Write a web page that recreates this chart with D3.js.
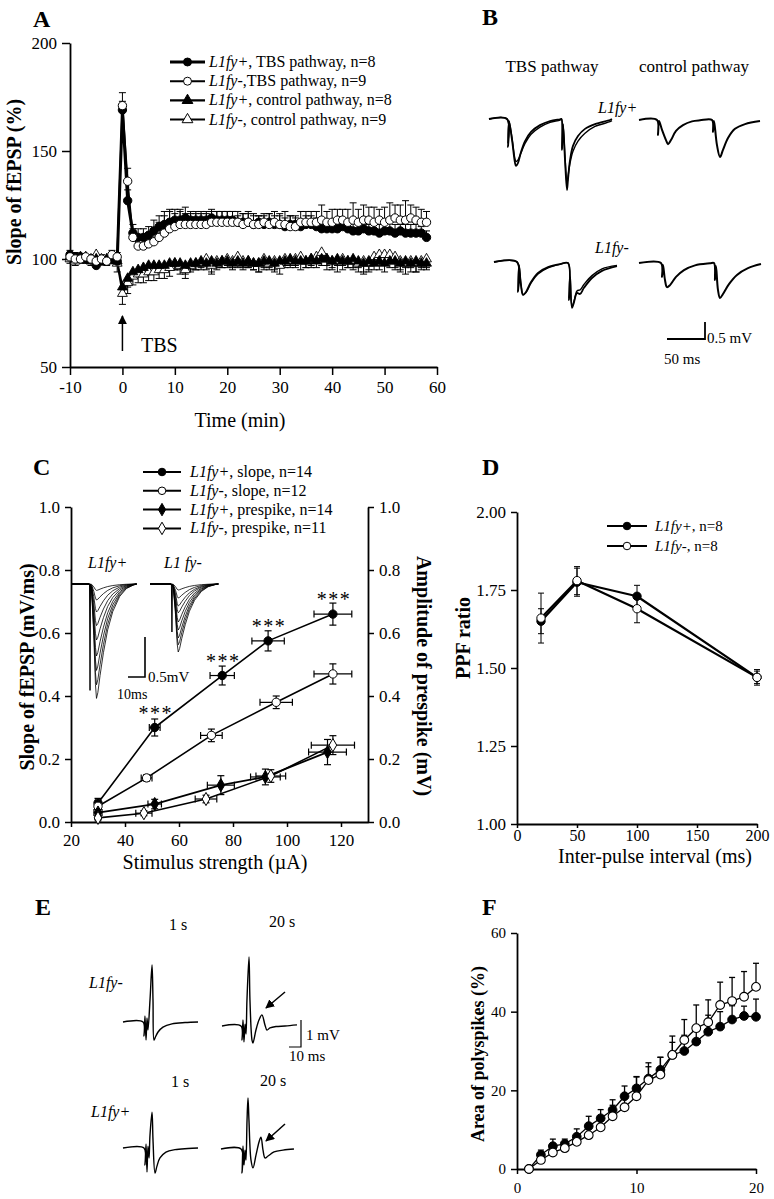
<!DOCTYPE html>
<html>
<head>
<meta charset="utf-8">
<title>L1fy LTP figure</title>
<script src="https://d3js.org/d3.v7.min.js"></script>
<style>
  body { margin: 0; background: #fff; }
  text { font-family: "Liberation Serif", "Times New Roman", serif; fill: #000; }
</style>
</head>
<body>
<script>
// ---------- Panel A: fEPSP slope over time ----------
const timeMin = [-10,-9,-8,-7,-6,-5,-4,-3,-2,-1,
  0,1,2,3,4,5,6,7,8,9,10,11,12,13,14,15,16,17,18,19,20,21,22,23,24,25,26,27,28,29,
  30,31,32,33,34,35,36,37,38,39,40,41,42,43,44,45,46,47,48,49,50,51,52,53,54,55,56,57,58];
const tbsPlus = [102,101,101,100,100,97,99,99,100,99,
  169,127,112,110,110,111,113,115,116,117,
  118,118,119,118,118,118,118,119,118,118,
  118,118,117,117,117,116,117,116,117,116,
  116,115,116,116,115,116,116,115,114,114,
  114,114,115,114,113,113,114,113,113,112,
  113,113,112,113,112,112,112,112,110];
const tbsMinus = [101,100,100,101,100,99,100,99,102,101,
  171,136,110,106,106,107,108,110,112,114,
  115,116,116,116,116,116,116,117,117,117,
  117,117,117,116,117,116,116,117,116,117,
  116,116,115,115,117,117,117,117,118,117,
  117,118,118,117,118,117,118,118,117,118,
  117,118,119,118,118,119,118,117,117];
const ctrlPlus = [101,100,101,100,99,100,99,100,100,99,
  87,91,94,95,96,97,97,97,97,98,
  98,98,97,98,98,99,98,99,98,99,
  99,98,99,98,99,98,98,99,99,98,
  99,99,100,99,99,99,100,99,100,100,
  99,100,99,99,100,99,98,99,98,99,
  98,99,99,98,99,98,99,98,98];
const ctrlMinus = [100,99,100,101,100,102,100,99,100,98,
  84,89,92,93,93,94,94,95,95,96,
  98,97,95,97,98,98,100,97,99,99,
  100,99,101,99,99,98,98,100,98,99,
  97,100,99,100,101,99,100,101,103,100,
  99,99,100,99,99,98,99,98,101,102,
  102,102,101,99,98,99,98,99,100];
const tbsPlusErr = [2,2,1,2,2,2,1,2,1,2,
  4,5,4,4,4,4,5,5,6,6,
  5,5,5,4,4,4,4,4,4,4,
  4,4,3,4,4,4,3,4,4,4,
  4,4,4,4,3,4,4,4,4,4,
  4,4,3,4,4,4,4,3,4,4,
  4,4,4,3,4,4,4,3,3];
const tbsMinusErr = [2,2,2,1,2,2,2,1,2,2,
  6,6,4,4,5,5,6,7,8,8,
  6,6,5,5,5,5,5,5,5,5,
  5,5,5,5,5,5,4,4,5,5,
  5,6,5,4,5,5,5,5,7,5,
  6,5,5,6,8,6,7,6,7,5,
  7,8,6,7,9,6,6,6,5];
const ctrlPlusErr = [2,2,1,2,2,2,1,2,2,2,
  4,4,3,3,3,3,3,3,3,3,
  3,3,4,3,3,3,3,5,3,3,
  3,3,3,3,3,3,4,3,3,3,
  3,3,3,3,4,3,3,3,3,3,
  3,3,4,3,4,3,5,4,3,4,
  4,3,4,4,3,4,5,3,3];
const ctrlMinusErr = [2,2,2,2,2,3,2,2,2,4,
  5,5,4,4,4,4,4,4,4,4,
  3,4,4,3,3,3,3,4,3,3,
  3,3,3,3,3,3,4,5,3,5,
  4,3,3,3,3,3,4,3,3,5,
  4,5,3,3,4,4,5,4,4,3,
  5,4,5,4,5,3,4,3,4];
const timeTicks = [-10,0,10,20,30,40,50,60];
const slopePctTicks = [50,100,150,200];
const legendA = [
  { ital: "L1fy+", rest: ", TBS pathway, n=8" },
  { ital: "L1fy-", rest: ",TBS pathway, n=9" },
  { ital: "L1fy+", rest: ", control pathway, n=8" },
  { ital: "L1fy-", rest: ", control pathway, n=9" }
];

// ---------- Panel B: example traces (ms, mV) ----------
const traceTbsPlusA = [[0,0],[23.7,0],[25,-0.82],[26.3,-0.06],[30.3,-0.62],[34.2,-1.29],[35.5,-1.38],[38.2,-1.29],[42.1,-0.97],[47.4,-0.65],[55.3,-0.38],[67.1,-0.18],[80.3,-0.06],[93.4,-0.01],[95.4,0],[96.1,-0.91],[97.4,-0.15],[100,-1.21],[102.6,-2.09],[103.9,-1.79],[106.6,-1.21],[110.5,-0.79],[117.1,-0.5],[126.3,-0.29],[139.5,-0.15],[159.2,-0.03],[161.8,0]];
const traceTbsPlusB = [[0,0],[23.7,0],[25,-0.7],[26.3,-0.06],[30.3,-0.55],[34.2,-1.18],[35.5,-1.25],[38.2,-1.2],[42.1,-1.0],[47.4,-0.72],[55.3,-0.45],[67.1,-0.24],[80.3,-0.1],[93.4,-0.03],[95.4,0],[96.1,-0.85],[97.4,-0.15],[100,-1.1],[102.6,-1.9],[103.9,-1.7],[106.6,-1.3],[110.5,-0.95],[117.1,-0.65],[126.3,-0.42],[139.5,-0.22],[159.2,-0.08],[161.8,-0.05]];
const traceCtrlPlus = [[0,0],[23.7,0],[25,-0.44],[26.3,-0.03],[30.3,-0.29],[35.5,-0.59],[38.2,-0.71],[42.1,-0.59],[48.7,-0.32],[57.9,-0.15],[69.7,-0.04],[80.3,-0.01],[96.1,0],[97.4,-0.35],[98.7,-0.03],[102.6,-0.74],[106.6,-1.09],[110.5,-0.88],[117.1,-0.53],[126.3,-0.26],[139.5,-0.12],[159.2,-0.03]];
const traceTbsMinusA = [[0,0],[30.3,0],[31.6,-0.88],[32.9,-0.09],[35.5,-0.68],[38.2,-0.97],[42.1,-0.88],[48.7,-0.59],[57.9,-0.32],[71.1,-0.15],[86.8,-0.06],[97.4,-0.03],[98.7,-1.12],[100,-0.38],[102.6,-1.35],[105.3,-1.18],[109.2,-0.91],[113.2,-0.94],[118.4,-0.76],[128.9,-0.47],[142.1,-0.26],[161.8,-0.12]];
const traceTbsMinusB = [[0,0],[30.3,0],[31.6,-0.85],[32.9,-0.09],[35.5,-0.66],[38.2,-0.95],[42.1,-0.9],[48.7,-0.62],[57.9,-0.35],[71.1,-0.17],[86.8,-0.07],[97.4,-0.03],[98.7,-1.05],[100,-0.38],[102.6,-1.3],[105.3,-1.15],[109.2,-0.85],[113.2,-0.82],[118.4,-0.66],[128.9,-0.4],[142.1,-0.2],[161.8,-0.1]];
const traceCtrlMinus = [[0,0],[28.9,0],[30.3,-0.41],[31.6,-0.06],[34.2,-0.5],[36.8,-0.71],[40.8,-0.65],[48.7,-0.41],[59.2,-0.21],[73.7,-0.07],[93.4,-0.01],[98.7,0],[100,-0.5],[101.3,-0.09],[103.9,-0.79],[106.6,-1.03],[110.5,-0.91],[118.4,-0.62],[128.9,-0.35],[143.4,-0.15],[160.5,-0.03]];

// ---------- Panel C: input/output ----------
const stimSlopePlus = [30,51,76,93,117];
const slopePlus = [0.06,0.30,0.465,0.575,0.66];
const slopePlusYErr = [0.015,0.027,0.03,0.032,0.035];
const stimSlopePlusXErr = [1,2,4.5,6,7];
const stimSlopeMinus = [30,48,72,96,117];
const slopeMinus = [0.05,0.14,0.275,0.38,0.47];
const slopeMinusYErr = [0.01,0.01,0.02,0.02,0.032];
const stimSlopeMinusXErr = [1,2,4,6,7];
const stimPrePlus = [30,51,75.5,92,115];
const prePlus = [0.03,0.057,0.117,0.143,0.222];
const prePlusYErr = [0.01,0.015,0.03,0.025,0.04];
const stimPrePlusXErr = [1.5,2.5,5,5.5,7];
const stimPreMinus = [30,47,70,94,117];
const preMinus = [0.013,0.028,0.073,0.146,0.244];
const preMinusYErr = [0.005,0.008,0.012,0.02,0.03];
const stimPreMinusXErr = [1,3,4,5.5,8];
const sigIndex = [1,2,3,4];
const stimTicks = [20,40,60,80,100,120];
const slopeTicks = [0,0.2,0.4,0.6,0.8,1.0];
const legendC = [
  { ital: "L1fy+", rest: ", slope, n=14" },
  { ital: "L1fy-", rest: ", slope, n=12" },
  { ital: "L1fy+", rest: ", prespike, n=14" },
  { ital: "L1fy-", rest: ", prespike, n=11" }
];
// inset: normalised fEPSP shape (ms, fraction of peak) and peak depths (mV)
const insetShape = [[0,0],[10,0],[11.5,0.05],[12.8,0.45],[13.8,0.88],[14.4,1],[15.2,0.95],[16.5,0.8],[18.5,0.6],[21,0.4],[24,0.24],[28,0.11],[32,0.04],[36,0.01],[38,0]];
const insetPlusDepths = [-0.08,-0.2,-0.35,-0.52,-0.7,-0.9,-1.08,-1.26,-1.43];
const insetMinusDepths = [-0.075,-0.175,-0.275,-0.36,-0.475,-0.575,-0.675,-0.76,-0.85];

// ---------- Panel D: paired-pulse facilitation ----------
const ipi = [20,50,100,200];
const ppfPlus = [1.65,1.775,1.73,1.47];
const ppfPlusErr = [0.04,0.045,0.035,0.02];
const ppfMinus = [1.66,1.78,1.69,1.47];
const ppfMinusErr = [0.08,0.045,0.045,0.025];
const ipiTicks = [0,50,100,150,200];
const ppfTicks = [1.00,1.25,1.50,1.75,2.00];

// ---------- Panel E: polyspike traces (ms, mV) ----------
const traceMinus1s = [[0,0],[16.7,0],[17.5,-0.52],[18.3,0.22],[19.2,-0.67],[20,0.15],[20.8,-0.3],[22.5,0.81],[24.2,2.11],[25,0.81],[25.8,-0.67],[26.7,-0.59],[29.2,-0.37],[33.3,-0.19],[40.8,-0.07],[51.7,-0.02],[62.5,0]];
const traceMinus20s = [[0,0],[15.8,0],[16.7,-0.52],[17.5,0.22],[18.3,-0.59],[19.2,0.07],[20,-0.3],[20.8,0.96],[22.5,2.56],[23.3,0.96],[25,-0.52],[25.8,-0.63],[28.3,-0.15],[30.8,0.22],[33.3,0.41],[35.8,0.04],[37.5,-0.15],[40,-0.07],[45,-0.02],[52.5,0],[62.5,0.04]];
const tracePlus1s = [[0,0],[17.5,0],[18.3,-0.63],[19.2,0.15],[20,-0.89],[20.8,0.07],[21.7,-0.37],[22.5,0.48],[24.2,1.33],[25,0.3],[26.7,-0.93],[28.3,-0.67],[30.8,-0.37],[35.8,-0.15],[43.3,-0.06],[54.2,-0.02],[62.5,0]];
const tracePlus20s = [[0,0],[16.7,0],[17.5,-0.89],[18.3,0.11],[19.2,-0.59],[20,-0.04],[20.8,-0.41],[21.7,1.07],[22.5,1.89],[23.3,1.07],[25,-0.41],[26.7,-0.7],[29.2,-0.22],[31.7,0.26],[33.3,0.44],[35,-0.04],[36.7,-0.33],[39.2,-0.26],[44.2,-0.11],[51.7,-0.04],[60.8,0]];

// ---------- Panel F: polyspike area ----------
const stimNo = [1,2,3,4,5,6,7,8,9,10,11,12,13,14,15,16,17,18,19,20];
const polyPlus = [0,3.6,5.8,6.4,8.2,10.9,12.9,15,18.5,20.5,23,25.2,29,30,32.4,34.9,36.2,38,38.9,38.7];
const polyPlusErr = [0,1.2,1.8,1.2,2,2.5,2.2,2.6,2.6,3,3,3.2,3.2,4,3.8,4.2,3.8,3.5,2.5,4.5];
const polyMinus = [0,2.3,4.2,5.3,6.9,8.6,10.6,13.4,15.7,18.5,22.6,24,29,32.8,35.8,37.3,41.7,42.7,43.8,46.3];
const polyMinusErr = [0,1,1.5,1.5,2,2.2,2.4,2.8,3,4.9,4.4,4.4,4.8,5.2,5.9,5.7,5.8,6,6.4,6];
const stimNoTicks = [0,10,20];
const polyTicks = [0,20,40,60];

// ================= drawing =================
const serif = '"Liberation Serif", "Times New Roman", serif';
const plain = d => String(d);   // keep an ASCII hyphen for negatives, like the original
const svg = d3.select('body').append('svg')
  .attr('width', 774).attr('height', 1199)
  .style('background', '#fff');

svg.append('defs').append('marker')
  .attr('id', 'ah').attr('viewBox', '0 0 10 10')
  .attr('refX', 9).attr('refY', 5)
  .attr('markerWidth', 6).attr('markerHeight', 6)
  .attr('orient', 'auto')
  .append('path').attr('d', 'M0,0 L10,5 L0,10 z').attr('fill', '#000');

function styleAxis(g, fs) {
  g.select('.domain').attr('stroke', '#000').attr('stroke-width', 1.8);
  g.selectAll('.tick line').attr('stroke', '#000').attr('stroke-width', 1.5);
  g.selectAll('.tick text').attr('font-family', serif).attr('font-size', fs).attr('fill', '#000');
}

function label(x, y, txt, size, opts = {}) {
  const t = svg.append('text').attr('x', x).attr('y', y)
    .attr('font-size', size).text(txt);
  if (opts.bold) t.attr('font-weight', 'bold');
  if (opts.italic) t.attr('font-style', 'italic');
  if (opts.anchor) t.attr('text-anchor', opts.anchor);
  if (opts.rotate) t.attr('transform', `rotate(${opts.rotate},${x},${y})`);
  return t;
}

function mixedText(g, x, y, ital, rest, size) {
  const t = g.append('text').attr('x', x).attr('y', y).attr('font-size', size);
  t.append('tspan').attr('font-style', 'italic').text(ital);
  t.append('tspan').text(rest);
}

function drawMarker(g, x, y, type, filled, size, sw) {
  g.append('path')
    .attr('d', d3.symbol().type(type).size(size)())
    .attr('transform', `translate(${x},${y})`)
    .attr('fill', filled ? '#000' : '#fff')
    .attr('stroke', '#000').attr('stroke-width', sw);
}

// vertical error bars: dir 'up' | 'down' | 'both'
function yErrBars(g, xs, ys, xv, yv, ev, dir, cap, sw) {
  xv.forEach((x, i) => {
    const e = ev[i];
    if (!e) return;
    const lo = dir === 'up' ? yv[i] : yv[i] - e;
    const hi = dir === 'down' ? yv[i] : yv[i] + e;
    const px = xs(x);
    g.append('line').attr('x1', px).attr('x2', px).attr('y1', ys(lo)).attr('y2', ys(hi))
      .attr('stroke', '#000').attr('stroke-width', sw);
    if (dir !== 'down') g.append('line').attr('x1', px - cap).attr('x2', px + cap)
      .attr('y1', ys(hi)).attr('y2', ys(hi)).attr('stroke', '#000').attr('stroke-width', sw);
    if (dir !== 'up') g.append('line').attr('x1', px - cap).attr('x2', px + cap)
      .attr('y1', ys(lo)).attr('y2', ys(lo)).attr('stroke', '#000').attr('stroke-width', sw);
  });
}

function xErrBars(g, xs, ys, xv, yv, ev, cap, sw) {
  xv.forEach((x, i) => {
    const e = ev[i];
    const py = ys(yv[i]);
    g.append('line').attr('x1', xs(x - e)).attr('x2', xs(x + e)).attr('y1', py).attr('y2', py)
      .attr('stroke', '#000').attr('stroke-width', sw);
    [x - e, x + e].forEach(v => g.append('line').attr('x1', xs(v)).attr('x2', xs(v))
      .attr('y1', py - cap).attr('y2', py + cap).attr('stroke', '#000').attr('stroke-width', sw));
  });
}

function seriesLine(g, xs, ys, xv, yv, sw) {
  g.append('path')
    .attr('d', d3.line().x((d, i) => xs(xv[i])).y(d => ys(d))(yv))
    .attr('fill', 'none').attr('stroke', '#000').attr('stroke-width', sw)
    .attr('stroke-linejoin', 'round');
}

function seriesMarkers(g, xs, ys, xv, yv, type, filled, size, sw) {
  yv.forEach((v, i) => drawMarker(g, xs(xv[i]), ys(v), type, filled, size, sw));
}

function drawTrace(g, pts, x0, y0, pxPerMs, pxPerMv, sw, curve) {
  const xs = d3.scaleLinear().domain([0, 1]).range([x0, x0 + pxPerMs]);
  const ys = d3.scaleLinear().domain([0, 1]).range([y0, y0 - pxPerMv]);
  g.append('path')
    .attr('d', d3.line().x(d => xs(d[0])).y(d => ys(d[1])).curve(curve || d3.curveCatmullRom.alpha(0.5))(pts))
    .attr('fill', 'none').attr('stroke', '#000').attr('stroke-width', sw)
    .attr('stroke-linejoin', 'round');
}

// ---------------- Panel A ----------------
const gA = svg.append('g');
const xA = d3.scaleLinear().domain([-10, 60]).range([70, 437]);
const yA = d3.scaleLinear().domain([50, 200]).range([367, 43]);
gA.append('g').attr('transform', 'translate(0,367)')
  .call(d3.axisBottom(xA).tickValues(timeTicks).tickFormat(plain).tickSize(8).tickSizeOuter(0).tickPadding(6))
  .call(g => styleAxis(g, 17));
gA.append('g').attr('transform', 'translate(70,0)')
  .call(d3.axisLeft(yA).tickValues(slopePctTicks).tickSize(8).tickSizeOuter(0).tickPadding(5))
  .call(g => styleAxis(g, 17));

yErrBars(gA, xA, yA, timeMin, ctrlMinus, ctrlMinusErr, 'down', 3.5, 1);
yErrBars(gA, xA, yA, timeMin, ctrlPlus, ctrlPlusErr, 'down', 3.5, 1);
yErrBars(gA, xA, yA, timeMin, tbsPlus, tbsPlusErr, 'up', 3.5, 1);
yErrBars(gA, xA, yA, timeMin, tbsMinus, tbsMinusErr, 'up', 3.5, 1);
seriesLine(gA, xA, yA, timeMin, ctrlMinus, 1.6);
seriesLine(gA, xA, yA, timeMin, ctrlPlus, 2);
seriesLine(gA, xA, yA, timeMin, tbsMinus, 1.8);
seriesLine(gA, xA, yA, timeMin, tbsPlus, 3);
seriesMarkers(gA, xA, yA, timeMin, ctrlMinus, d3.symbolTriangle, false, 42, 0.9);
seriesMarkers(gA, xA, yA, timeMin, ctrlPlus, d3.symbolTriangle, true, 42, 0.9);
seriesMarkers(gA, xA, yA, timeMin, tbsPlus, d3.symbolCircle, true, 55, 1);
seriesMarkers(gA, xA, yA, timeMin, tbsMinus, d3.symbolCircle, false, 55, 1);

// legend A
const legA = svg.append('g');
const legATypes = [[d3.symbolCircle, true, 3], [d3.symbolCircle, false, 2], [d3.symbolTriangle, true, 2.2], [d3.symbolTriangle, false, 2]];
legendA.forEach((d, i) => {
  const y = 62 + i * 19.2;
  legA.append('line').attr('x1', 170).attr('x2', 205).attr('y1', y).attr('y2', y)
    .attr('stroke', '#000').attr('stroke-width', legATypes[i][2]);
  drawMarker(legA, 187.5, y, legATypes[i][0], legATypes[i][1], 50, 1);
  mixedText(legA, 209, y + 5, d.ital, d.rest, 16);
});

// TBS arrow
svg.append('line').attr('x1', xA(0)).attr('x2', xA(0)).attr('y1', 351).attr('y2', 316)
  .attr('stroke', '#000').attr('stroke-width', 1.5).attr('marker-end', 'url(#ah)');
label(141, 352, 'TBS', 20);
label(33, 27, 'A', 24, { bold: true });
label(240, 427, 'Time (min)', 20, { anchor: 'middle' });
label(21, 182, 'Slope of fEPSP (%)', 20, { bold: true, anchor: 'middle', rotate: -90 });

// ---------------- Panel B ----------------
label(482, 25, 'B', 24, { bold: true });
label(552, 72, 'TBS pathway', 17, { anchor: 'middle' });
label(694, 72, 'control pathway', 17, { anchor: 'middle' });
label(598, 113, 'L1fy+', 16, { italic: true });
label(595, 253, 'L1fy-', 16, { italic: true });
const gB = svg.append('g');
drawTrace(gB, traceTbsPlusB, 489, 119, 0.76, 34, 1.4);
drawTrace(gB, traceTbsPlusA, 489, 119, 0.76, 34, 1.8);
drawTrace(gB, traceCtrlPlus, 639, 120, 0.76, 34, 2);
drawTrace(gB, traceTbsMinusB, 494, 262, 0.76, 34, 1.4);
drawTrace(gB, traceTbsMinusA, 494, 262, 0.76, 34, 1.8);
drawTrace(gB, traceCtrlMinus, 639, 263, 0.76, 34, 2);
// scale bar 50 ms / 0.5 mV
gB.append('path').attr('d', `M667,339 H${667 + 50 * 0.76} V${339 - 0.5 * 34}`)
  .attr('fill', 'none').attr('stroke', '#000').attr('stroke-width', 1.8);
label(707, 343, '0.5 mV', 15);
label(664, 364, '50 ms', 15);

// ---------------- Panel C ----------------
const gC = svg.append('g');
const xC = d3.scaleLinear().domain([20, 130]).range([71, 368]);
const yC = d3.scaleLinear().domain([0, 1]).range([822, 507]);
const fmt1 = d3.format('.1f');
gC.append('g').attr('transform', 'translate(0,822)')
  .call(d3.axisBottom(xC).tickValues(stimTicks).tickSize(5).tickSizeOuter(0).tickPadding(7))
  .call(g => styleAxis(g, 17));
gC.append('g').attr('transform', 'translate(71,0)')
  .call(d3.axisLeft(yC).tickValues(slopeTicks).tickFormat(fmt1).tickSize(6).tickSizeOuter(0).tickPadding(5))
  .call(g => styleAxis(g, 17));
gC.append('g').attr('transform', 'translate(368,0)')
  .call(d3.axisRight(yC).tickValues(slopeTicks).tickFormat(fmt1).tickSize(6).tickSizeOuter(0).tickPadding(5))
  .call(g => styleAxis(g, 17));

// inset traces
const insetPlusPts = insetPlusDepths.map(dp => insetShape.map(([t, f]) => [t, f * dp]));
insetPlusPts.forEach(p => drawTrace(gC, p, 72, 584, 1.7, 80, 0.8, d3.curveLinear));
drawTrace(gC, [[0, 0], [10.3, 0], [10.6, -1.33], [10.9, 0]], 72, 584, 1.7, 80, 1, d3.curveLinear);
const insetMinusPts = insetMinusDepths.map(dp => insetShape.map(([t, f]) => [t + 2.2, f * dp]));
insetMinusPts.forEach(p => drawTrace(gC, [[0, 0]].concat(p), 150, 584, 1.7, 80, 0.8, d3.curveLinear));
drawTrace(gC, [[12.6, 0], [12.9, -0.6], [13.2, 0]], 150, 584, 1.7, 80, 1, d3.curveLinear);
label(88, 568, 'L1fy+', 16, { italic: true });
label(164, 568, 'L1 fy-', 16, { italic: true });
gC.append('path').attr('d', `M128,677 H${128 + 10 * 1.7} V${677 - 0.5 * 80}`)
  .attr('fill', 'none').attr('stroke', '#000').attr('stroke-width', 1.6);
label(148, 682, '0.5mV', 15);
label(117, 699, '10ms', 14);

// error bars, lines, markers
yErrBars(gC, xC, yC, stimSlopePlus, slopePlus, slopePlusYErr, 'both', 3.5, 1.2);
xErrBars(gC, xC, yC, stimSlopePlus, slopePlus, stimSlopePlusXErr, 3.5, 1.2);
yErrBars(gC, xC, yC, stimSlopeMinus, slopeMinus, slopeMinusYErr, 'both', 3.5, 1.2);
xErrBars(gC, xC, yC, stimSlopeMinus, slopeMinus, stimSlopeMinusXErr, 3.5, 1.2);
yErrBars(gC, xC, yC, stimPrePlus, prePlus, prePlusYErr, 'both', 3.5, 1.2);
xErrBars(gC, xC, yC, stimPrePlus, prePlus, stimPrePlusXErr, 3.5, 1.2);
yErrBars(gC, xC, yC, stimPreMinus, preMinus, preMinusYErr, 'both', 3.5, 1.2);
xErrBars(gC, xC, yC, stimPreMinus, preMinus, stimPreMinusXErr, 3.5, 1.2);
seriesLine(gC, xC, yC, stimSlopePlus, slopePlus, 1.6);
seriesLine(gC, xC, yC, stimSlopeMinus, slopeMinus, 1.6);
seriesLine(gC, xC, yC, stimPrePlus, prePlus, 1.8);
seriesLine(gC, xC, yC, stimPreMinus, preMinus, 1.6);
seriesMarkers(gC, xC, yC, stimSlopePlus, slopePlus, d3.symbolCircle, true, 55, 1);
seriesMarkers(gC, xC, yC, stimSlopeMinus, slopeMinus, d3.symbolCircle, false, 55, 1);
seriesMarkers(gC, xC, yC, stimPrePlus, prePlus, d3.symbolDiamond, true, 50, 1);
seriesMarkers(gC, xC, yC, stimPreMinus, preMinus, d3.symbolDiamond, false, 50, 1);
sigIndex.forEach(i => {
  gC.append('text').attr('x', xC(stimSlopePlus[i]) + 1).attr('y', yC(slopePlus[i]) - 8)
    .attr('text-anchor', 'middle').attr('font-size', 20).attr('letter-spacing', 1.5).text('***');
});

const legC = svg.append('g');
const legCTypes = [[d3.symbolCircle, true], [d3.symbolCircle, false], [d3.symbolDiamond, true], [d3.symbolDiamond, false]];
legendC.forEach((d, i) => {
  const y = 472 + i * 18.8;
  legC.append('line').attr('x1', 143).attr('x2', 181).attr('y1', y).attr('y2', y)
    .attr('stroke', '#000').attr('stroke-width', 2);
  drawMarker(legC, 162, y, legCTypes[i][0], legCTypes[i][1], 45, 1);
  mixedText(legC, 190, y + 5, d.ital, d.rest, 16);
});
label(33, 475, 'C', 24, { bold: true });
label(215, 869, 'Stimulus strength (\u00b5A)', 20, { anchor: 'middle' });
label(34, 667, 'Slope of fEPSP (mV/ms)', 20, { bold: true, anchor: 'middle', rotate: -90 });
label(417, 676, 'Amplitude of prespike (mV)', 20, { bold: true, anchor: 'middle', rotate: 90 });

// ---------------- Panel D ----------------
const gD = svg.append('g');
const xD = d3.scaleLinear().domain([0, 200]).range([517, 757]);
const yD = d3.scaleLinear().domain([1, 2]).range([824, 512]);
gD.append('g').attr('transform', 'translate(0,824)')
  .call(d3.axisBottom(xD).tickValues(ipiTicks).tickSize(4).tickSizeOuter(0).tickPadding(2))
  .call(g => styleAxis(g, 16));
gD.append('g').attr('transform', 'translate(517,0)')
  .call(d3.axisLeft(yD).tickValues(ppfTicks).tickFormat(d3.format('.2f')).tickSize(6).tickSizeOuter(0).tickPadding(5))
  .call(g => styleAxis(g, 17));
yErrBars(gD, xD, yD, ipi, ppfPlus, ppfPlusErr, 'both', 3, 1);
yErrBars(gD, xD, yD, ipi, ppfMinus, ppfMinusErr, 'both', 3, 1);
seriesLine(gD, xD, yD, ipi, ppfPlus, 2.2);
seriesLine(gD, xD, yD, ipi, ppfMinus, 2.2);
seriesMarkers(gD, xD, yD, ipi, ppfPlus, d3.symbolCircle, true, 55, 1);
seriesMarkers(gD, xD, yD, ipi, ppfMinus, d3.symbolCircle, false, 55, 1);
const legD = svg.append('g');
[[true, 'L1fy+', ',  n=8', 526], [false, 'L1fy-', ', n=8', 546]].forEach(([f, it, rest, y]) => {
  legD.append('line').attr('x1', 607).attr('x2', 647).attr('y1', y).attr('y2', y)
    .attr('stroke', '#000').attr('stroke-width', 2.2);
  drawMarker(legD, 627, y, d3.symbolCircle, f, 45, 1);
  mixedText(legD, 655, y + 5, it, rest, 15);
});
label(482, 475, 'D', 24, { bold: true });
label(655, 863, 'Inter-pulse interval (ms)', 20, { anchor: 'middle' });
label(470, 638, 'PPF ratio', 20, { bold: true, anchor: 'middle', rotate: -90 });

// ---------------- Panel E ----------------
const gE = svg.append('g');
label(35, 915, 'E', 24, { bold: true });
label(178, 930, '1 s', 16, { anchor: 'middle' });
label(282, 927, '20 s', 16, { anchor: 'middle' });
label(180, 1087, '1 s', 16, { anchor: 'middle' });
label(273, 1086, '20 s', 16, { anchor: 'middle' });
label(89, 988, 'L1fy-', 16, { italic: true });
label(91, 1117, 'L1fy+', 16, { italic: true });
drawTrace(gE, traceMinus1s, 123, 1022, 1.2, 27, 1.4);
drawTrace(gE, traceMinus20s, 222, 1026, 1.2, 27, 1.4);
drawTrace(gE, tracePlus1s, 123, 1148, 1.2, 27, 1.4);
drawTrace(gE, tracePlus20s, 221, 1149, 1.2, 27, 1.4);
gE.append('line').attr('x1', 285).attr('y1', 992).attr('x2', 266).attr('y2', 1008)
  .attr('stroke', '#000').attr('stroke-width', 1.5).attr('marker-end', 'url(#ah)');
gE.append('line').attr('x1', 285).attr('y1', 1124).attr('x2', 266).attr('y2', 1141)
  .attr('stroke', '#000').attr('stroke-width', 1.5).attr('marker-end', 'url(#ah)');
gE.append('path').attr('d', `M${301 - 10 * 1.2},1047 H301 V${1047 - 1 * 27}`)
  .attr('fill', 'none').attr('stroke', '#000').attr('stroke-width', 1.2);
label(306, 1040, '1 mV', 15);
label(289, 1061, '10 ms', 15);

// ---------------- Panel F ----------------
const gF = svg.append('g');
const xF = d3.scaleLinear().domain([0, 20]).range([517, 756]);
const yF = d3.scaleLinear().domain([0, 60]).range([1169, 933]);
gF.append('g').attr('transform', 'translate(0,1169)')
  .call(d3.axisBottom(xF).tickValues(stimNoTicks).tickSize(5).tickSizeOuter(0).tickPadding(8))
  .call(g => styleAxis(g, 15));
gF.append('g').attr('transform', 'translate(517,0)')
  .call(d3.axisLeft(yF).tickValues(polyTicks).tickSize(6).tickSizeOuter(0).tickPadding(5))
  .call(g => styleAxis(g, 15));
yErrBars(gF, xF, yF, stimNo, polyPlus, polyPlusErr, 'up', 3, 1.3);
yErrBars(gF, xF, yF, stimNo, polyMinus, polyMinusErr, 'up', 3, 1.3);
seriesLine(gF, xF, yF, stimNo, polyPlus, 1.3);
seriesLine(gF, xF, yF, stimNo, polyMinus, 1.3);
seriesMarkers(gF, xF, yF, stimNo, polyPlus, d3.symbolCircle, true, 60, 1);
seriesMarkers(gF, xF, yF, stimNo, polyMinus, d3.symbolCircle, false, 60, 1.1);
label(482, 915, 'F', 24, { bold: true });
label(484, 1054, 'Area of polyspikes (%)', 18, { bold: true, anchor: 'middle', rotate: -90 });
</script>
</body>
</html>
